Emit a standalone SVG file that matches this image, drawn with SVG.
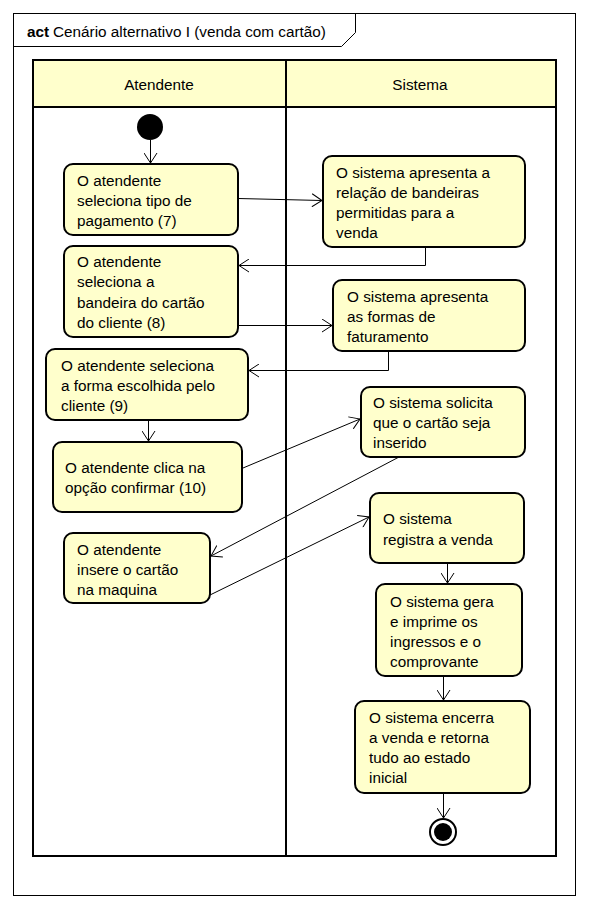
<svg xmlns="http://www.w3.org/2000/svg" width="589" height="910" viewBox="0 0 589 910">
<style>
text{font-family:"Liberation Sans",Arial,sans-serif;font-size:15.3px;fill:#000}
.node{fill:#ffffcc;stroke:#000;stroke-width:2}
.lane{fill:none;stroke:#000;stroke-width:2}
.hdr{fill:#ffffcc;stroke:#000;stroke-width:2}
.c{fill:none;stroke:#000;stroke-width:1}
</style>
<defs>
<marker id="ar" viewBox="0 0 11 14" refX="10.5" refY="7" markerWidth="11" markerHeight="14" markerUnits="userSpaceOnUse" orient="auto">
<path d="M0.5,0.5 L10.5,7 L0.5,13.5" fill="none" stroke="#000" stroke-width="1"/>
</marker>
</defs>
<rect x="0" y="0" width="589" height="910" fill="#fff"/>
<g id="frame">
<rect x="13.5" y="13.5" width="562" height="882" fill="#fff" stroke="#000" stroke-width="1"/>
<path d="M13.5,46.5 L341.5,46.5 L355.5,32.5 L355.5,13.5" fill="none" stroke="#000" stroke-width="1"/>
<text x="27" y="37"><tspan font-weight="bold">act</tspan><tspan x="53">Cenário alternativo I (venda com cartão)</tspan></text>
</g>
<g id="lanes">
<rect class="hdr" x="33" y="60" width="523" height="47"/>
<rect class="lane" x="33" y="60" width="523" height="796"/>
<line class="lane" x1="286" y1="60" x2="286" y2="856"/>
<text x="159" y="90" text-anchor="middle">Atendente</text>
<text x="420" y="90" text-anchor="middle">Sistema</text>
</g>
<g id="start"><circle cx="150" cy="127" r="13" fill="#000"/></g>
<g id="n1"><rect class="node" x="64" y="164" width="174" height="71" rx="9"/>
<text x="77" y="186">O atendente</text><text x="77" y="206">seleciona tipo de</text><text x="77" y="226">pagamento (7)</text></g>
<g id="n2"><rect class="node" x="64" y="246" width="174" height="91" rx="9"/>
<text x="77" y="267">O atendente</text><text x="77" y="287">seleciona a</text><text x="77" y="308">bandeira do cartão</text><text x="77" y="328">do cliente (8)</text></g>
<g id="n3"><rect class="node" x="46" y="349" width="202" height="71" rx="9"/>
<text x="61" y="371">O atendente seleciona</text><text x="61" y="391">a forma escolhida pelo</text><text x="61" y="411">cliente (9)</text></g>
<g id="n4"><rect class="node" x="53" y="442" width="189" height="70" rx="9"/>
<text x="65" y="473">O atendente clica na</text><text x="65" y="493">opção confirmar (10)</text></g>
<g id="n5"><rect class="node" x="64" y="533" width="146" height="70" rx="9"/>
<text x="77" y="555">O atendente</text><text x="77" y="575">insere o cartão</text><text x="77" y="595">na maquina</text></g>
<g id="n6"><rect class="node" x="323" y="156" width="202" height="91" rx="9"/>
<text x="336" y="178">O sistema apresenta a</text><text x="336" y="198">relação de bandeiras</text><text x="336" y="218">permitidas para a</text><text x="336" y="238">venda</text></g>
<g id="n7"><rect class="node" x="333" y="280" width="192" height="71" rx="9"/>
<text x="347" y="302">O sistema apresenta</text><text x="347" y="322">as formas de</text><text x="347" y="342">faturamento</text></g>
<g id="n8"><rect class="node" x="361" y="387" width="164" height="70" rx="9"/>
<text x="373" y="408">O sistema solicita</text><text x="373" y="428">que o cartão seja</text><text x="373" y="448">inserido</text></g>
<g id="n9"><rect class="node" x="370" y="493" width="154" height="70" rx="9"/>
<text x="383" y="524">O sistema</text><text x="383" y="545">registra a venda</text></g>
<g id="n10"><rect class="node" x="376" y="584" width="146" height="92" rx="9"/>
<text x="390" y="607">O sistema gera</text><text x="390" y="627">e imprime os</text><text x="390" y="647">ingressos e o</text><text x="390" y="667">comprovante</text></g>
<g id="n11"><rect class="node" x="355" y="701" width="175" height="92" rx="9"/>
<text x="369" y="723">O sistema encerra</text><text x="369" y="743">a venda e retorna</text><text x="369" y="763">tudo ao estado</text><text x="369" y="783">inicial</text></g>
<g id="end"><circle cx="443" cy="832" r="13" fill="#fff" stroke="#000" stroke-width="2"/><circle cx="443" cy="832" r="9" fill="#000"/></g>
<g id="connectors">
<path class="c" d="M150.5,140 L150.5,163" marker-end="url(#ar)"/>
<path class="c" d="M238,198.5 L322,200.5" marker-end="url(#ar)"/>
<path class="c" d="M425.5,247 L425.5,265.5 L239,265.5" marker-end="url(#ar)"/>
<path class="c" d="M238,325.5 L332,325.5" marker-end="url(#ar)"/>
<path class="c" d="M388.5,351 L388.5,370.5 L249,370.5" marker-end="url(#ar)"/>
<path class="c" d="M148.5,420 L148.5,441" marker-end="url(#ar)"/>
<path class="c" d="M243,468 L360,419" marker-end="url(#ar)"/>
<path class="c" d="M399,457 L211,556" marker-end="url(#ar)"/>
<path class="c" d="M210,595 L369,517" marker-end="url(#ar)"/>
<path class="c" d="M447.5,563 L447.5,583" marker-end="url(#ar)"/>
<path class="c" d="M443.5,676 L443.5,700" marker-end="url(#ar)"/>
<path class="c" d="M443.5,793 L443.5,818" marker-end="url(#ar)"/>
</g>
</svg>
